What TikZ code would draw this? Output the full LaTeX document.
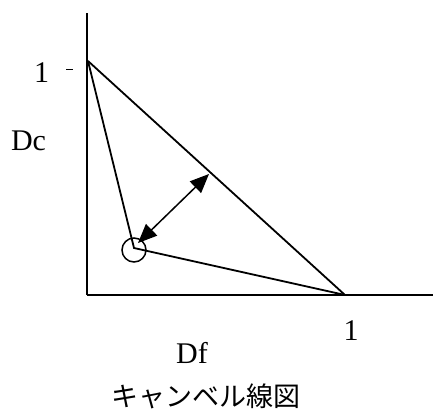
\documentclass[tikz,border=0pt]{standalone}
\usepackage{fontspec}
\setmainfont{Liberation Serif}
\newfontfamily\cjk{Noto Sans CJK JP}
\usetikzlibrary{arrows.meta, positioning}
\definecolor{colLine}{RGB}{0,0,0}
\tikzset{
  axis/.style={line width=2pt, color=colLine},
  edge/.style={line width=1.8pt, color=colLine},
  dblarr/.style={
    {Triangle[length=19pt, width=16pt]}-{Triangle[length=19pt, width=16pt]},
    line width=1.5pt, color=colLine
  },
  tickmark/.style={line width=0.7pt, color=colLine},
  label/.style={font=\fontsize{30}{32}\selectfont, inner sep=0pt},
  caption/.style={font=\cjk\fontsize{27}{30}\selectfont, inner sep=0pt}
}

\begin{document}
\begin{tikzpicture}[x=1pt, y=-1pt]
  \useasboundingbox (0,0) rectangle (433,409);

  % axes
  \coordinate (origin) at (87,295);
  \coordinate (ytop) at (87,13);
  \coordinate (xend) at (433,295);
  \draw[axis] (origin) -- (ytop);
  \draw[axis] (origin) -- (xend);

  % triangle
  \coordinate (dc1) at (88,61);
  \coordinate (df1) at (345,295);
  \coordinate (pt) at (134,248);
  \draw[edge] (dc1) -- (df1);
  \draw[edge] (dc1) -- (pt) -- (df1);
  \node[circle, draw, line width=1.5pt, minimum size=24pt, inner sep=0pt] (ring) at (134,250) {};

  % distance arrow
  \coordinate (near) at (138,243);
  \coordinate (far) at (209,174);
  \draw[dblarr] (near) -- (far);

  % tick and labels
  \coordinate (tickL) at (66,69);
  \coordinate (tickR) at (73,69);
  \draw[tickmark] (tickL) -- (tickR);
  \node[label] (one-y) at (41.5,72.5) {1};
  \node[label] (lab-dc) at (28.5,141) {Dc};
  \node[label] (one-x) at (351,331) {1};
  \node[label] (lab-df) at (192,353) {Df};
  \node[caption] (title) at (205.5,396) {キャンベル線図};

\end{tikzpicture}
\end{document}
